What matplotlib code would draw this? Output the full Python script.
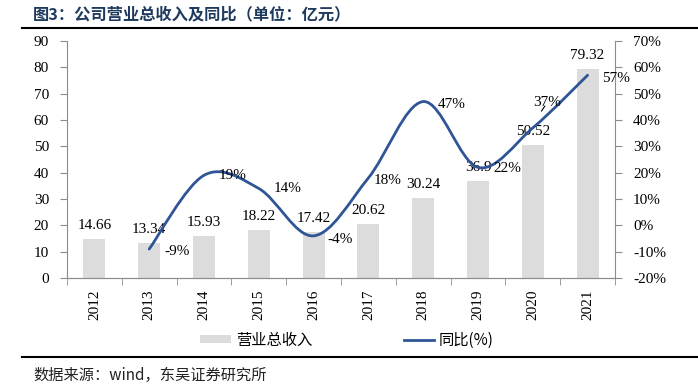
import matplotlib
matplotlib.use("Agg")
import matplotlib.pyplot as plt
from matplotlib.path import Path
from matplotlib.patches import PathPatch, Patch
from matplotlib.lines import Line2D
import numpy as np

# ---- data ----
years = ["2012", "2013", "2014", "2015", "2016", "2017", "2018", "2019", "2020", "2021"]
revenue = [14.66, 13.34, 15.93, 18.22, 17.42, 20.62, 30.24, 36.9, 50.52, 79.32]
growth_years = ["2013", "2014", "2015", "2016", "2017", "2018", "2019", "2020", "2021"]
growth = [-9, 19, 14, -4, 18, 47, 22, 37, 57]
growth_labels = ["-9%", "19%", "14%", "-4%", "18%", "47%", "22%", "37%", "57%"]
left_ticks = list(range(0, 91, 10))
right_ticks = list(range(-20, 71, 10))

# label offsets (pixels) for the growth labels
g_offsets = [(15, -6), (15, -4), (15, -4), (14, -7), (5, -6), (15, -6), (15, -5), (0, 22), (14, -7)]

SERIF = ["Liberation Serif", "DejaVu Serif"]
CJK = ["Noto Sans CJK SC", "DejaVu Sans"]
BAR_C = "#DCDCDC"
LINE_C = "#2F5597"
SPINE_C = "#8C8C8C"

fig = plt.figure(figsize=(6.98, 3.85), dpi=100)
W, H = 698, 385
ax = fig.add_axes([67 / W, 1 - 278 / H, (615 - 67) / W, (278 - 41) / H])
ax2 = ax.twinx()

x = np.arange(len(years))
ax.bar(x, revenue, width=0.4, color=BAR_C, zorder=1)
ax.set_xlim(-0.5, len(years) - 0.5)
ax.set_ylim(0, 90)
ax.set_yticks(left_ticks)
ax.set_yticklabels([str(t) for t in left_ticks], fontfamily=SERIF, fontsize=11)

# x ticks: labels at centers, tick marks at boundaries
ax.set_xticks(x)
ax.set_xticklabels(years, rotation=90, fontfamily=SERIF, fontsize=11)
ax.tick_params(axis="x", which="major", length=0, pad=8)
ax.set_xticks(np.arange(-0.5, len(years)), minor=True)
ax.tick_params(axis="x", which="minor", length=5, color=SPINE_C, direction="out")
ax.tick_params(axis="y", length=5, color=SPINE_C, pad=8)

for a in (ax, ax2):
    a.spines["top"].set_visible(False)
    for s in ("left", "right", "bottom"):
        a.spines[s].set_color(SPINE_C)
ax.spines["right"].set_visible(False)
ax2.spines["left"].set_visible(False)

# bar value labels
for xi, v in zip(x, revenue):
    ax.annotate(f"{v:g}", (xi, v), xytext=(0, 7.2), textcoords="offset points",
                ha="center", va="baseline", fontfamily=SERIF, fontsize=11, zorder=5)

# growth line - smoothed via Catmull-Rom bezier
ax2.set_ylim(-20, 70)
ax2.set_yticks(right_ticks)
ax2.set_yticklabels([f"{t}%" for t in right_ticks], fontfamily=SERIF, fontsize=11)
ax2.tick_params(axis="y", length=5, color=SPINE_C, pad=8)

gx = np.array([years.index(y) for y in growth_years], dtype=float)
gy = np.array(growth, dtype=float)
P = np.column_stack([gx, gy])
n = len(P)
verts = [tuple(P[0])]
codes = [Path.MOVETO]
for i in range(n - 1):
    p0 = P[i - 1] if i > 0 else P[i]
    p1 = P[i]
    p2 = P[i + 1]
    p3 = P[i + 2] if i + 2 < n else P[i + 1]
    c1 = p1 + (p2 - p0) / 6.0
    c2 = p2 - (p3 - p1) / 6.0
    verts += [tuple(c1), tuple(c2), tuple(p2)]
    codes += [Path.CURVE4] * 3
ax2.add_patch(PathPatch(Path(verts, codes), facecolor="none", edgecolor=LINE_C, lw=2.0,
                        capstyle="round", zorder=3))

for xi, yi, lab, (dx, dy) in zip(gx, gy, growth_labels, g_offsets):
    ax2.annotate(lab, (xi, yi), xytext=(dx * 0.72, dy * 0.72), textcoords="offset points",
                 ha="left", va="baseline", fontfamily=SERIF, fontsize=11, zorder=6)
# small leader line for 37%
i37 = growth_labels.index("37%")
ax2.annotate("", (gx[i37] + 0.13, gy[i37] + 5.5), xytext=(gx[i37] + 0.25, gy[i37] + 9.2),
             arrowprops=dict(arrowstyle="-", color="black", lw=0.8))

# title and rules
fig.text(33 / W, 1 - 14 / H, "图3：公司营业总收入及同比（单位：亿元）", fontfamily=CJK, fontsize=11.7,
         fontweight="bold", color="#1F3A5F", ha="left", va="center")
fig.add_artist(Line2D([22 / W, 1], [1 - 28 / H] * 2, color="black", lw=1.5))
fig.add_artist(Line2D([22 / W, 1], [1 - 357 / H] * 2, color="black", lw=1.5))
fig.text(33 / W, 1 - 375 / H, "数据来源：wind，东吴证券研究所", fontfamily=CJK, fontsize=11,
         color="#222222", ha="left", va="center")

handles = [Patch(facecolor=BAR_C, edgecolor="none"), Line2D([], [], color=LINE_C, lw=2)]
fig.legend(handles, ["营业总收入", "同比(%)"], loc="center", bbox_to_anchor=(347 / W, 1 - 340 / H),
           ncol=2, frameon=False, prop={"family": CJK, "size": 11}, handlelength=2.0,
           handleheight=0.5, handletextpad=0.3, columnspacing=6.0)

fig.savefig("out.png", dpi=100)
